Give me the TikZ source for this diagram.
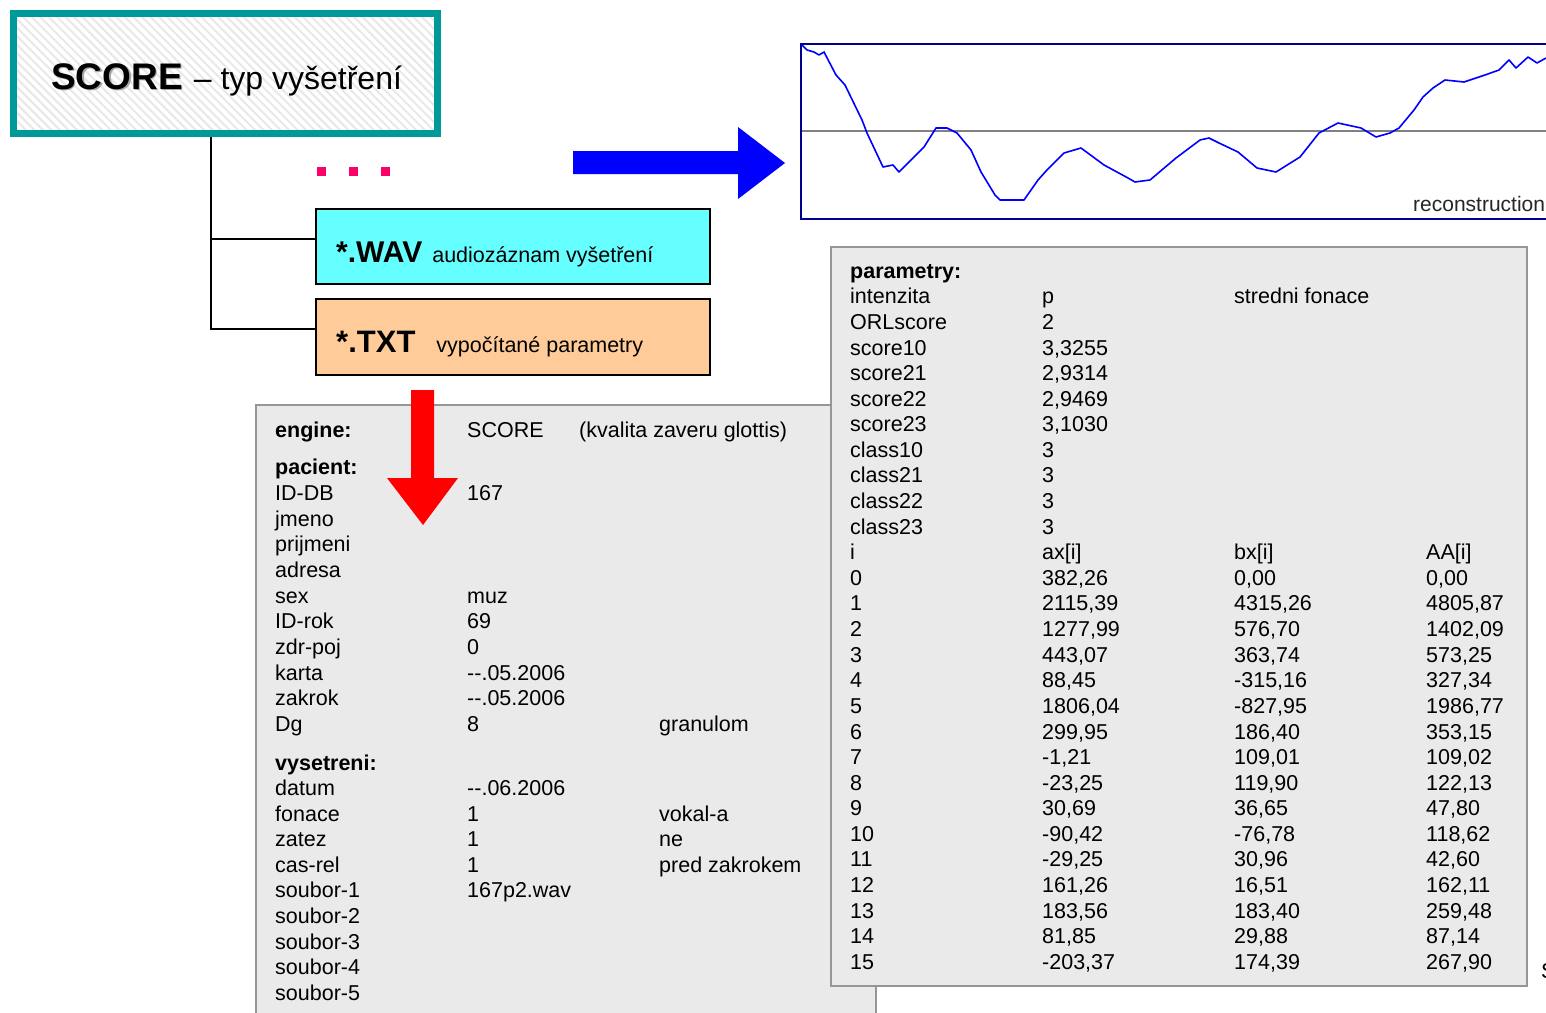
\documentclass[tikz,border=0pt]{standalone}
\usepackage{fontspec}
\setmainfont{Liberation Sans}
\usetikzlibrary{patterns.meta}
\definecolor{teal1}{RGB}{0,153,153}
\definecolor{wavcol}{RGB}{102,255,255}
\definecolor{txtcol}{RGB}{255,204,153}
\definecolor{dotcol}{RGB}{255,0,102}
\definecolor{panelfill}{RGB}{234,234,234}
\definecolor{panelline}{RGB}{150,150,150}
\definecolor{navy1}{RGB}{0,0,140}
\newcommand\lr[3]{\node[cell] (la#1) at (275,#1+8) {#2}; \node[cell] (lb#1) at (467,#1+8) {#3};}
\newcommand\rtwo[3]{\node[cell] (ra#1) at (850,#1+8) {#2}; \node[cell] (rb#1) at (1042,#1+8) {#3};}
\newcommand\rfour[5]{\node[cell] (ra#1) at (850,#1+8) {#2}; \node[cell] (rb#1) at (1042,#1+8) {#3};
  \node[cell] (rc#1) at (1234,#1+8) {#4}; \node[cell] (rd#1) at (1426,#1+8) {#5};}
\begin{document}
\begin{tikzpicture}[x=1pt,y=-1pt,
  cell/.style={anchor=base west,inner sep=0pt,font=\fontsize{21.5}{25}\selectfont,text=black},
  filebox/.style={draw=black,line width=2pt,minimum width=394pt,inner sep=0pt},
  panel/.style={draw=panelline,fill=panelfill,line width=2pt},
  tree/.style={draw=black,line width=2pt}]
\useasboundingbox (0,0) rectangle (1546,1012);
% SCORE box
\node[preaction={fill=white},pattern={Lines[angle=-45,distance=6pt,line width=2pt]},pattern color=black!9,
  draw=teal1,line width=7pt,minimum width=424pt,minimum height=120pt,inner sep=0pt] (score) at (225.5,73.5) {};
\node[anchor=base west,inner sep=0pt,text=black!35] (titleshadow) at (52.5,90.5)
  {\fontsize{37}{40}\selectfont\bfseries SCORE};
\node[anchor=base west,inner sep=0pt] (title) at (51,89)
  {\fontsize{37}{40}\selectfont\bfseries SCORE\hspace{0.3em}\fontsize{32}{36}\mdseries\selectfont – typ vyšetření};
% dots
\foreach \x [count=\i] in {321.5,353.5,385.5}
  \fill[dotcol] (\x-4.5,167) rectangle (\x+4.5,176) coordinate (dot\i);
% file boxes
\node[filebox,fill=wavcol,minimum height=75pt] (wav) at (513,246.5) {};
\node[filebox,fill=txtcol,minimum height=76pt] (txt) at (513,337) {};
\node[anchor=base west,inner sep=0pt] (wavlabel) at (336,262)
  {\fontsize{30}{32}\selectfont\bfseries *.WAV\hspace{10pt}\fontsize{21.5}{25}\mdseries\selectfont audiozáznam vyšetření};
\node[anchor=base west,inner sep=0pt] (txtlabel) at (336,352)
  {\fontsize{31}{33}\selectfont\bfseries *.TXT\hspace{21pt}\fontsize{21.5}{25}\mdseries\selectfont vypočítané parametry};
% tree
\coordinate (b1) at (211,239);
\coordinate (b2) at (211,329);
\draw[tree] (score.south -| b1) -- (b2) -- (b2 -| txt.west);
\draw[tree] (b1) -- (b1 -| wav.west);
% blue arrow
\fill[blue] (573,151) -- (738,151) -- (738,127) -- (785,163) -- (738,199) -- (738,174) -- (573,174) -- cycle;
% waveform box
\draw[navy1,line width=2pt,fill=white] (801,44) rectangle (1560,219);
\draw[gray,line width=1.5pt] (802,131) -- (1560,131);
\draw[blue,line width=1.6pt,line join=round] plot coordinates {
(802,45) (807,50) (814,52) (819,55) (824,52) (836,75) (845,85) (862,120) (867,133)
(883,167) (893,165) (899,172) (909,162) (924,147) (936,128) (947,128) (957,133)
(971,150) (981,172) (995,195) (1000,200) (1024,200) (1038,180) (1047,170) (1064,153)
(1081,148) (1104,165) (1128,178) (1135,182) (1150,180) (1176,158) (1200,140) (1209,138)
(1219,143) (1238,152) (1257,168) (1276,172) (1300,157) (1319,133) (1338,123) (1361,128)
(1376,137) (1390,133) (1399,128) (1414,110) (1423,97) (1433,88) (1445,80) (1464,82)
(1485,75) (1499,70) (1509,60) (1516,68) (1528,57) (1537,63) (1546,58)};
\node[anchor=base west,inner sep=0pt,font=\fontsize{21}{24}\selectfont,text=black!85] (recon) at (1413,211) {reconstruction};
% left panel
\draw[panel] (256,405) rectangle (876,1030);
\node[cell] (la429) at (275,437) {\textbf{engine:}};
\node[cell] (lb429) at (467,437) {SCORE};
\node[cell] (lc429) at (579,437) {(kvalita zaveru glottis)};
\node[cell] (la466) at (275,474) {\textbf{pacient:}};
\lr{492}{ID-DB}{167}
\lr{518}{jmeno}{}
\lr{543}{prijmeni}{}
\lr{569}{adresa}{}
\lr{595}{sex}{muz}
\lr{620}{ID-rok}{69}
\lr{646}{zdr-poj}{0}
\lr{672}{karta}{-{}-.05.2006}
\lr{697}{zakrok}{-{}-.05.2006}
\lr{723}{Dg}{8}
\node[cell] (lc723) at (659,731) {granulom};
\node[cell] (la762) at (275,770) {\textbf{vysetreni:}};
\lr{787}{datum}{-{}-.06.2006}
\lr{813}{fonace}{1}
\node[cell] (lc813) at (659,821) {vokal-a};
\lr{838}{zatez}{1}
\node[cell] (lc838) at (659,846) {ne};
\lr{864}{cas-rel}{1}
\node[cell] (lc864) at (659,872) {pred zakrokem};
\lr{889}{soubor-1}{167p2.wav}
\lr{915}{soubor-2}{}
\lr{941}{soubor-3}{}
\lr{966}{soubor-4}{}
\lr{992}{soubor-5}{}
% right panel
\draw[panel] (831,247) rectangle (1527,986);
\node[cell] (ra270) at (850,278) {\textbf{parametry:}};
\node[cell] (ra295) at (850,303) {intenzita};
\node[cell] (rb295) at (1042,303) {p};
\node[cell] (rc295) at (1234,303) {stredni fonace};
\rtwo{321}{ORLscore}{2}
\rtwo{347}{score10}{3,3255}
\rtwo{372}{score21}{2,9314}
\rtwo{398}{score22}{2,9469}
\rtwo{423}{score23}{3,1030}
\rtwo{449}{class10}{3}
\rtwo{474}{class21}{3}
\rtwo{500}{class22}{3}
\rtwo{526}{class23}{3}
\rfour{551}{i}{ax[i]}{bx[i]}{AA[i]}
\rfour{577}{0}{382,26}{0,00}{0,00}
\rfour{602}{1}{2115,39}{4315,26}{4805,87}
\rfour{628}{2}{1277,99}{576,70}{1402,09}
\rfour{654}{3}{443,07}{363,74}{573,25}
\rfour{679}{4}{88,45}{-315,16}{327,34}
\rfour{705}{5}{1806,04}{-827,95}{1986,77}
\rfour{731}{6}{299,95}{186,40}{353,15}
\rfour{756}{7}{-1,21}{109,01}{109,02}
\rfour{782}{8}{-23,25}{119,90}{122,13}
\rfour{807}{9}{30,69}{36,65}{47,80}
\rfour{833}{10}{-90,42}{-76,78}{118,62}
\rfour{858}{11}{-29,25}{30,96}{42,60}
\rfour{884}{12}{161,26}{16,51}{162,11}
\rfour{910}{13}{183,56}{183,40}{259,48}
\rfour{935}{14}{81,85}{29,88}{87,14}
\rfour{961}{15}{-203,37}{174,39}{267,90}
\node[cell] (edge) at (1541,978) {S};
% red arrow
\fill[red] (411,390) -- (434,390) -- (434,478) -- (458,478) -- (423,525) -- (387,478) -- (411,478) -- cycle;
\end{tikzpicture}
\end{document}
